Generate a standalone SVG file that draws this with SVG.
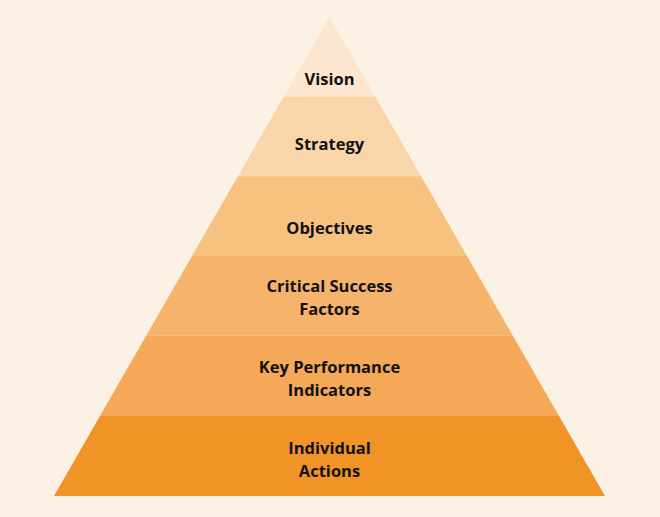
<svg xmlns="http://www.w3.org/2000/svg" width="660" height="517" viewBox="0 0 660 517">
<style>
text{font-family:"Open Sans","Liberation Sans",sans-serif;font-weight:700;font-size:16.5px;fill:#111;text-anchor:middle}
</style>
<rect width="660" height="517" fill="#FBF1E4"/>
<g id="vision"><polygon points="329.5,17 283.7,96.7 375.3,96.7" fill="#FCE6CF"/><text x="329.5" y="84.5">Vision</text></g>
<g id="strategy"><polygon points="283.7,96.7 375.3,96.7 421.1,176.3 237.9,176.3" fill="#F9D5AA"/><text x="329.5" y="150">Strategy</text></g>
<g id="objectives"><polygon points="237.9,176.3 421.1,176.3 467,256 192,256" fill="#F7C17F"/><text x="329.5" y="234">Objectives</text></g>
<g id="csf"><polygon points="192,256 467,256 512.8,335.7 146.2,335.7" fill="#F5B36B"/><text x="329.5" y="292.2">Critical Success</text><text x="329.5" y="314.9">Factors</text></g>
<g id="kpi"><polygon points="146.2,335.7 512.8,335.7 558.6,415.3 100.4,415.3" fill="#F4A858"/><text x="329.5" y="373.2">Key Performance</text><text x="329.5" y="395.9">Indicators</text></g>
<g id="actions"><polygon points="100.4,415.3 558.6,415.3 605,496 54,496" fill="#F19427"/><text x="329.5" y="453.8">Individual</text><text x="329.5" y="476.5">Actions</text></g>
<g id="connectors"/>
</svg>
